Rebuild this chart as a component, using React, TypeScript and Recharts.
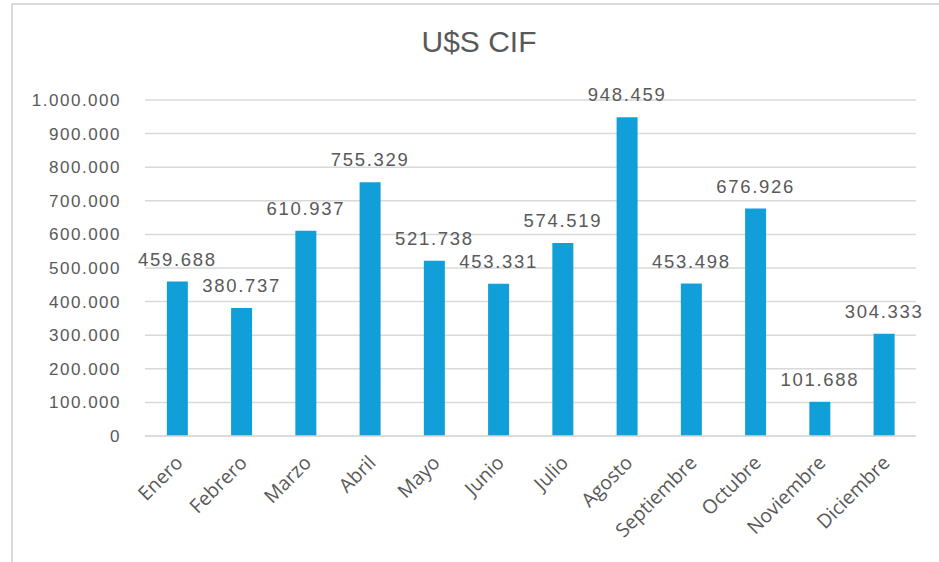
import { BarChart, Bar, XAxis, YAxis, CartesianGrid, LabelList } from "recharts";

const months = [
  "Enero",
  "Febrero",
  "Marzo",
  "Abril",
  "Mayo",
  "Junio",
  "Julio",
  "Agosto",
  "Septiembre",
  "Octubre",
  "Noviembre",
  "Diciembre",
];
const cifValues = [
  459688, 380737, 610937, 755329, 521738, 453331, 574519, 948459, 453498,
  676926, 101688, 304333,
];
const yTicks = [
  0, 100000, 200000, 300000, 400000, 500000, 600000, 700000, 800000, 900000,
  1000000,
];

const data = months.map((month, i) => ({ month, cif: cifValues[i] }));

const fmt = (v: number) =>
  String(v).replace(/\B(?=(\d{3})+(?!\d))/g, ".");

const textColor = "#595959";

function MonthTick({ x, y, payload }: any) {
  const ax = x + 7;
  const ay = y + 20;
  return (
    <text
      x={ax}
      y={ay}
      textAnchor="end"
      fill={textColor}
      fontSize={19.5}
      fontFamily="'Open Sans', sans-serif"
      transform={`rotate(-45 ${ax} ${ay})`}
    >
      {payload.value}
    </text>
  );
}

export default function App() {
  return (
    <div
      style={{
        position: "fixed",
        top: 0,
        left: 0,
        width: 939,
        height: 562,
        background: "#fff",
        overflow: "hidden",
      }}
    >
      <div
        style={{
          position: "absolute",
          left: 11,
          top: 3,
          width: 1000,
          height: 600,
          border: "2px solid #d9d9d9",
        }}
      />
      <div
        style={{
          position: "absolute",
          left: 0,
          width: 958,
          top: 24,
          textAlign: "center",
          fontFamily: "'Liberation Sans', Arial, sans-serif",
          fontSize: 30,
          color: textColor,
          lineHeight: "36px",
        }}
      >
        U$S CIF
      </div>
      <div style={{ position: "absolute", left: 0, top: 0 }}>
        <BarChart
          width={939}
          height={562}
          data={data}
          margin={{ top: 100, right: 23, bottom: 0, left: 0 }}
          barCategoryGap="34%"
        >
          <CartesianGrid vertical={false} stroke="#d9d9d9" strokeWidth={1.5} />
          <XAxis
            dataKey="month"
            height={126}
            interval={0}
            tickLine={false}
            axisLine={{ stroke: "#d9d9d9", strokeWidth: 1.5 }}
            tick={<MonthTick />}
          />
          <YAxis
            width={145}
            domain={[0, 1000000]}
            ticks={yTicks}
            tickFormatter={fmt}
            tickLine={false}
            axisLine={false}
            tickSize={0}
            tickMargin={24}
            tick={{
              fill: textColor,
              fontSize: 17,
              fontFamily: "'Liberation Sans', Arial, sans-serif",
              letterSpacing: 1.5,
            }}
          />
          <Bar dataKey="cif" fill="#109fd8" isAnimationActive={false}>
            <LabelList
              dataKey="cif"
              position="top"
              offset={16}
              formatter={(v: any) => fmt(Number(v))}
              fill={textColor}
              fontSize={18.5}
              fontFamily="'Liberation Sans', Arial, sans-serif"
              letterSpacing={1.7}
            />
          </Bar>
        </BarChart>
      </div>
    </div>
  );
}
